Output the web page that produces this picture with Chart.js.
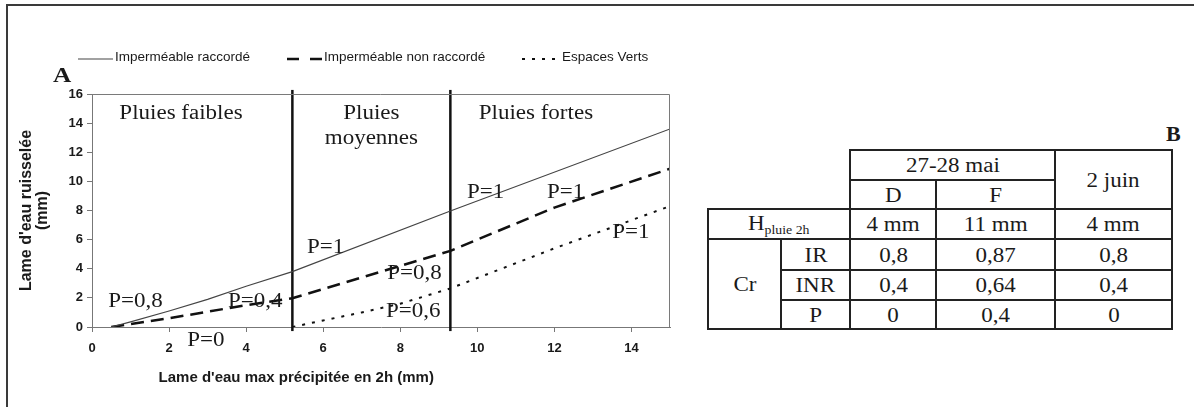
<!DOCTYPE html>
<html lang="fr">
<head>
<meta charset="utf-8">
<title>Lame d'eau ruisselée</title>
<script src="https://cdn.jsdelivr.net/npm/chart.js@4.4.1/dist/chart.umd.min.js"></script>
<style>
  html, body { margin: 0; padding: 0; background: #fff; }
  #page { position: relative; width: 1194px; height: 407px; overflow: hidden; }
  #frame { position: absolute; left: 6px; top: 4px; width: 1200px; height: 420px;
           border-top: 2px solid #3a3a3a; border-left: 2px solid #3a3a3a; }
  #chart { position: absolute; left: 0; top: 0; }
  #tabB { position: absolute; left: 707px; top: 149px; border-collapse: collapse;
          font-family: "Liberation Serif", "Times New Roman", serif; font-size: 20px; color: #1a1a1a; }
  #tabB td { border: 2px solid #222; padding: 0; text-align: center; vertical-align: middle; line-height: 1; }
  #tabB td.blank { border-top: none; border-left: none; }
  .w { display: inline-block; transform: scaleX(1.15); }
  sub { font-size: 12px; vertical-align: -4px; }
  #labB { position: absolute; left: 1166px; top: 121px; font: bold 22px "Liberation Serif", serif; color: #1a1a1a; }
</style>
</head>
<body>
<div id="page">
  <div id="frame"></div>
  <canvas id="chart" width="700" height="407"></canvas>
  <div id="labB">B</div>
  <table id="tabB"></table>
</div>
<script>
// ==========================
// DATA (graphique A)
// ==========================
const xAxisTicks = [0, 2, 4, 6, 8, 10, 12, 14];
const yAxisTicks = [0, 2, 4, 6, 8, 10, 12, 14, 16];

const seriesNames = ["Imperméable raccordé", "Imperméable non raccordé", "Espaces Verts"];

const xRaccorde = [0.5, 1, 2, 3, 4, 5.2, 9.3, 15];
const yRaccorde = [0, 0.35, 1.1, 1.9, 2.8, 3.8, 7.97, 13.6];

const xNonRaccorde = [0.5, 1, 2, 3, 4, 5.2, 9.3, 12, 15];
const yNonRaccorde = [0, 0.2, 0.6, 1.05, 1.5, 1.97, 5.23, 8.2, 10.87];

const xEspacesVerts = [5.2, 6, 7, 8, 9.3, 12, 15];
const yEspacesVerts = [0, 0.45, 1.0, 1.6, 2.65, 5.4, 8.3];

// limites entre classes de pluie
const classLimits = [5.2, 9.3];
const classNames = [["Pluies faibles"], ["Pluies", "moyennes"], ["Pluies fortes"]];

// coefficients notés sur le graphique
const pTexts = ["P=0,8", "P=0", "P=0,4", "P=1", "P=0,8", "P=0,6", "P=1", "P=1", "P=1"];

// ==========================
// DATA (tableau B)
// ==========================
const eventNames = ["27-28 mai", "2 juin"];
const subEvents = ["D", "F"];
const rainDepth = ["4 mm", "11 mm", "4 mm"];
const crRows = ["IR", "INR", "P"];
const crIR = ["0,8", "0,87", "0,8"];
const crINR = ["0,4", "0,64", "0,4"];
const crP = ["0", "0,4", "0"];

// ==========================
// STYLE / PLACEMENT
// ==========================
const SANS = '"Liberation Sans", Arial, sans-serif';
const SERIF = '"Liberation Serif", "Times New Roman", serif';
const INK = "#1a1a1a";

// label anchors in data units (left, baseline)
const classSpots = [[2.31, 14.25], [7.25, 14.25], [11.52, 14.25]];
const pSpots = [[0.42, 1.37], [2.47, -1.3], [3.53, 1.37], [5.58, 5.07], [7.66, 3.29],
                [7.63, 0.68], [9.73, 8.84], [11.81, 8.84], [13.5, 6.1]];

function toPoints(xs, ys) {
  return xs.map((x, i) => ({ x: x, y: ys[i] }));
}

function serifText(ctx, txt, x, y, size, align, bold) {
  ctx.save();
  ctx.font = (bold ? "bold " : "") + size + "px " + SERIF;
  ctx.fillStyle = INK;
  ctx.textAlign = align;
  ctx.textBaseline = "alphabetic";
  ctx.translate(x, y);
  ctx.scale(1.15, 1);
  ctx.fillText(txt, 0, 0);
  ctx.restore();
}

// ==========================
// TABLE B
// ==========================
function buildTable() {
  const colW = [75, 71, 88, 121, 119];
  const rowH = [30, 29, 30, 31, 30, 29];
  const cell = (txt) => '<span class="w">' + txt + "</span>";
  let html = "<colgroup>" + colW.map((w) => '<col style="width:' + (w - 2) + 'px">').join("") + "</colgroup>";
  html += '<tr style="height:' + rowH[0] + 'px"><td class="blank" colspan="2" rowspan="2"></td>' +
    '<td colspan="2">' + cell(eventNames[0]) + '</td><td rowspan="2">' + cell(eventNames[1]) + "</td></tr>";
  html += '<tr style="height:' + rowH[1] + 'px">' + subEvents.map((s) => "<td>" + cell(s) + "</td>").join("") + "</tr>";
  html += '<tr style="height:' + rowH[2] + 'px"><td colspan="2">' + cell("H<sub>pluie 2h</sub>") + "</td>" +
    rainDepth.map((v) => "<td>" + cell(v) + "</td>").join("") + "</tr>";
  const vals = [crIR, crINR, crP];
  crRows.forEach((name, i) => {
    html += '<tr style="height:' + rowH[3 + i] + 'px">';
    if (i === 0) html += '<td rowspan="3">' + cell("Cr") + "</td>";
    html += "<td>" + cell(name) + "</td>" + vals[i].map((v) => "<td>" + cell(v) + "</td>").join("") + "</tr>";
  });
  document.getElementById("tabB").innerHTML = html;
}
buildTable();

// ==========================
// OVERLAY PLUGIN
// ==========================
const overlay = {
  id: "overlay",
  afterDraw(chart) {
    const ctx = chart.ctx;
    const area = chart.chartArea;
    const xs = chart.scales.x;
    const ys = chart.scales.y;

    // plot frame (top + right)
    ctx.save();
    ctx.strokeStyle = "#7a7a7a";
    ctx.lineWidth = 1;
    ctx.beginPath();
    ctx.moveTo(area.left, area.top + 0.5);
    ctx.lineTo(area.right - 0.5, area.top + 0.5);
    ctx.lineTo(area.right - 0.5, area.bottom);
    ctx.stroke();
    ctx.restore();

    // legend
    const legY = 59;
    const legItems = [
      { x: 78, len: 35, dash: [], w: 1.2, color: "#444" },
      { x: 287, len: 35, dash: [12, 11], w: 2.5, color: "#111" },
      { x: 522, len: 38, dash: [3, 7], w: 2, color: "#111" },
    ];
    ctx.save();
    legItems.forEach((it, i) => {
      ctx.strokeStyle = it.color;
      ctx.lineWidth = it.w;
      ctx.setLineDash(it.dash);
      ctx.beginPath();
      ctx.moveTo(it.x, legY);
      ctx.lineTo(it.x + it.len, legY);
      ctx.stroke();
      ctx.setLineDash([]);
      ctx.font = "13.5px " + SANS;
      ctx.fillStyle = INK;
      ctx.textBaseline = "middle";
      ctx.textAlign = "left";
      ctx.fillText(seriesNames[i], it.x + it.len + 2, 57);
    });
    ctx.restore();

    // panel letter
    serifText(ctx, "A", 53, 82, 22, "left", true);

    // rain classes
    classNames.forEach((lines, i) => {
      const cx = xs.getPixelForValue(classSpots[i][0]);
      const by = ys.getPixelForValue(classSpots[i][1]);
      lines.forEach((t, j) => serifText(ctx, t, cx, by + j * 25, 20, "center", false));
    });

    // P coefficients
    pTexts.forEach((t, i) => {
      serifText(ctx, t, xs.getPixelForValue(pSpots[i][0]), ys.getPixelForValue(pSpots[i][1]), 20, "left", false);
    });

    // axis titles
    ctx.save();
    ctx.fillStyle = INK;
    ctx.font = "bold 15px " + SANS;
    ctx.textAlign = "center";
    ctx.textBaseline = "middle";
    ctx.fillText("Lame d'eau max précipitée en 2h (mm)", xs.getPixelForValue(5.3), 378);
    const midY = (area.top + area.bottom) / 2;
    ctx.font = "bold 16px " + SANS;
    ctx.translate(27, midY);
    ctx.rotate(-Math.PI / 2);
    ctx.fillText("Lame d'eau ruisselée", 0, 0);
    ctx.fillText("(mm)", 0, 16);
    ctx.restore();
  },
};

// ==========================
// CHART
// ==========================
const axisFont = { family: SANS, size: 13, weight: "bold" };

const datasets = [
  { label: seriesNames[0], data: toPoints(xRaccorde, yRaccorde), borderColor: "#444", borderWidth: 1.2 },
  { label: seriesNames[1], data: toPoints(xNonRaccorde, yNonRaccorde), borderColor: "#111", borderWidth: 2.5, borderDash: [13, 7] },
  { label: seriesNames[2], data: toPoints(xEspacesVerts, yEspacesVerts), borderColor: "#111", borderWidth: 2, borderDash: [3, 7] },
];
classLimits.forEach((lim) => {
  datasets.push({ label: "limite", data: toPoints([lim, lim], [-0.28, 16.28]), borderColor: "#111", borderWidth: 2.5, clip: false });
});

new Chart(document.getElementById("chart"), {
  type: "line",
  data: { datasets: datasets },
  options: {
    responsive: false,
    animation: false,
    events: [],
    layout: { padding: { left: 0, top: 94, right: 30, bottom: 0 } },
    elements: { point: { radius: 0 }, line: { tension: 0, fill: false } },
    plugins: { legend: { display: false }, tooltip: { enabled: false } },
    scales: {
      x: {
        type: "linear",
        min: 0,
        max: 15,
        afterFit: (s) => { s.height = 80; },
        afterBuildTicks: (s) => { s.ticks = xAxisTicks.map((v) => ({ value: v })); },
        ticks: { font: axisFont, color: INK, padding: 9, maxRotation: 0 },
        grid: { drawOnChartArea: false, drawTicks: true, tickLength: 5, color: "#777" },
        border: { color: "#777" },
      },
      y: {
        min: 0,
        max: 16,
        afterFit: (s) => { s.width = 92; },
        afterBuildTicks: (s) => { s.ticks = yAxisTicks.map((v) => ({ value: v })); },
        ticks: { font: axisFont, color: INK, padding: 4 },
        grid: { drawOnChartArea: false, drawTicks: true, tickLength: 5, color: "#777" },
        border: { color: "#777" },
      },
    },
  },
  plugins: [overlay],
});
</script>
</body>
</html>
